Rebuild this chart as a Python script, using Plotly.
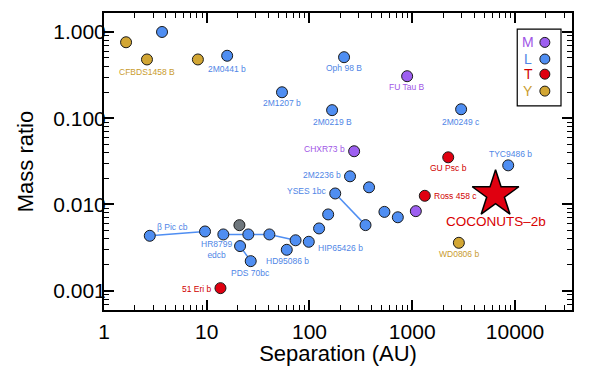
import numpy as np
import plotly.graph_objects as go

# ---------------- data ----------------
names = ["W1", "CFBDS1458 B", "L1", "W2", "2M0441 b", "2M1207 b", "Oph 98 B", "FU Tau B",
         "2M0219 B", "2M0249 c", "CHXR73 b", "GU Psc b", "TYC9486 b", "2M2236 b", "L2",
         "YSES 1b", "YSES 1c", "Ross 458 c", "M1", "L3", "L4", "L5", "L6", "HIP65426 b",
         "HR8799 e", "HR8799 d", "HR8799 c", "HR8799 b", "beta Pic c", "beta Pic b", "G1",
         "PDS 70 b", "PDS 70 c", "HD95086 b", "51 Eri b", "WD0806 b"]
sep = [1.64, 2.62, 3.67, 8.2, 15.8, 54, 217, 892,
       166, 2990, 272, 2240, 8590, 248, 380,
       178, 351, 1325, 1084, 536, 724, 152, 124, 98.4,
       14.5, 25.4, 40.7, 73.2, 2.79, 9.62, 20.8,
       21.1, 26.8, 60.1, 13.6, 2843]
ratio = [0.76, 0.48, 1.0, 0.48, 0.53, 0.20, 0.51, 0.307,
         0.124, 0.127, 0.0414, 0.0352, 0.0284, 0.0212, 0.0158,
         0.0134, 0.00576, 0.0126, 0.00836, 0.0082, 0.0071, 0.00766, 0.00527, 0.00369,
         0.00449, 0.00449, 0.00449, 0.00384, 0.00433, 0.00486, 0.00575,
         0.00329, 0.0022, 0.00298, 0.00107, 0.00359]
spt = ["Y", "Y", "L", "Y", "L", "L", "L", "M",
       "L", "L", "M", "T", "L", "L", "L",
       "L", "L", "T", "M", "L", "L", "L", "L", "L",
       "L", "L", "L", "L", "L", "L", "G",
       "L", "L", "L", "T", "Y"]

coconuts_sep = [6471]
coconuts_ratio = [0.0131]

systems = [["beta Pic c", "beta Pic b"],
           ["HR8799 e", "HR8799 d", "HR8799 c", "HR8799 b"],
           ["PDS 70 b", "PDS 70 c"],
           ["YSES 1b", "YSES 1c"]]

x_ticks = [1, 10, 100, 1000, 10000]
x_ticktext = ["1", "10", "100", "1000", "10000"]
y_ticks = [0.001, 0.01, 0.1, 1.0]
y_ticktext = ["0.001", "0.010", "0.100", "1.000"]

# label text, anchor object, type colour, (xanchor, xshift, yshift)
labels = [
    ("CFBDS1458 B", "CFBDS1458 B", "Y", ("center", 0, -13)),
    ("2M0441 b", "2M0441 b", "L", ("center", 0, -13)),
    ("2M1207 b", "2M1207 b", "L", ("center", 0, -11)),
    ("Oph 98 B", "Oph 98 B", "L", ("center", 0, -11)),
    ("FU Tau B", "FU Tau B", "M", ("center", 0, -11)),
    ("2M0219 B", "2M0219 B", "L", ("center", 0, -12)),
    ("2M0249 c", "2M0249 c", "L", ("center", 0, -13)),
    ("CHXR73 b", "CHXR73 b", "M", ("right", -7, 2)),
    ("GU Psc b", "GU Psc b", "T", ("center", 0, -11)),
    ("TYC9486 b", "TYC9486 b", "L", ("center", 2, 11)),
    ("2M2236 b", "2M2236 b", "L", ("right", -7, 1)),
    ("YSES 1bc", "YSES 1b", "L", ("right", -7, 2)),
    ("Ross 458 c", "Ross 458 c", "T", ("left", 7, 0)),
    ("WD0806 b", "WD0806 b", "Y", ("center", 0, -11)),
    ("HIP65426 b", "HIP65426 b", "L", ("left", 7, -6)),
    ("HD95086 b", "HD95086 b", "L", ("center", 1, -11)),
    ("PDS 70bc", "PDS 70 c", "L", ("center", 0, -12)),
    ("HR8799<br>edcb", "HR8799 e", "L", ("center", -7, -15)),
    ("β Pic cb", "beta Pic c", "L", ("left", 5, 9)),
    ("51 Eri b", "51 Eri b", "T", ("right", -6, -1)),
]

legend_types = ["M", "L", "T", "Y"]

# ---------------- style ----------------
marker_col = {"M": "#9d5ff0", "L": "#4f8ef2", "T": "#e00010", "Y": "#d2a634", "G": "#6f777d"}
text_col = {"M": "#a055e6", "L": "#4f86e6", "T": "#d00000", "Y": "#c99c2e", "G": "#6f777d"}
FONT = "Liberation Sans, Arial, Helvetica, sans-serif"

X_RANGE = [0, 4.555]
Y_RANGE = [-3.224, 0.22]


def minor_positions(lo, hi):
    out = []
    for d in range(int(np.floor(lo)) - 1, int(np.ceil(hi)) + 1):
        for m in range(2, 10):
            v = m * 10.0 ** d
            if lo <= np.log10(v) <= hi:
                out.append(v)
    return out


fig = go.Figure()
idx = {n: i for i, n in enumerate(names)}

for sysm in systems:
    fig.add_trace(go.Scatter(x=[sep[idx[m]] for m in sysm], y=[ratio[idx[m]] for m in sysm],
                             mode="lines", line=dict(color="#4f8ef2", width=1.5),
                             showlegend=False, hoverinfo="skip"))

for t in ["G", "Y", "L", "M", "T"]:
    xs = [s for s, k in zip(sep, spt) if k == t]
    ys = [r for r, k in zip(ratio, spt) if k == t]
    fig.add_trace(go.Scatter(x=xs, y=ys, mode="markers",
                             marker=dict(size=11, color=marker_col[t],
                                         line=dict(color="#1a1a1a", width=1)),
                             showlegend=False))

fig.add_trace(go.Scatter(x=coconuts_sep, y=coconuts_ratio, mode="markers",
                         marker=dict(symbol="star", size=35, color="#e00010",
                                     line=dict(color="black", width=1.5)),
                         showlegend=False))

# invisible trace on the minor-tick axes so they render
fig.add_trace(go.Scatter(x=[10], y=[0.01], xaxis="x2", yaxis="y2", mode="markers",
                         marker=dict(opacity=0), showlegend=False, hoverinfo="skip"))

for txt, obj, t, (xa, dx, dy) in labels:
    i = idx[obj]
    fig.add_annotation(x=np.log10(sep[i]), y=np.log10(ratio[i]), text=txt, showarrow=False,
                       xanchor=xa, yanchor="middle", xshift=dx, yshift=dy,
                       font=dict(family=FONT, size=8.5, color=text_col[t]),
                       align="center")

fig.add_annotation(x=np.log10(coconuts_sep[0]), y=np.log10(coconuts_ratio[0]),
                   text="COCONUTS–2b", showarrow=False, xanchor="center", yanchor="middle",
                   yshift=-27, font=dict(family=FONT, size=13.5, color="#d80000"))

# custom legend (letter then marker) in paper coordinates
fig.add_shape(type="rect", xref="paper", yref="paper", x0=0.883, x1=0.9765, y0=0.687, y1=0.946,
              line=dict(color="black", width=1.2), fillcolor="white")
row_y = [0.901, 0.845, 0.794, 0.737]
for t, yy in zip(legend_types, row_y):
    fig.add_annotation(xref="paper", yref="paper", x=0.906, y=yy, text=t, showarrow=False,
                       xanchor="center", yanchor="middle",
                       font=dict(family=FONT, size=14, color=text_col[t]))
    fig.add_shape(type="circle", xref="paper", yref="paper", xsizemode="pixel", ysizemode="pixel",
                  xanchor=0.942, yanchor=yy, x0=-5, x1=5, y0=-5, y1=5,
                  fillcolor=marker_col[t], line=dict(color="#1a1a1a", width=1))

axis_common = dict(type="log", showline=True, linecolor="black", linewidth=2, mirror="allticks",
                   ticks="inside", ticklen=10, tickwidth=1.5, tickcolor="black",
                   showgrid=False, zeroline=False, automargin=False,
                   tickfont=dict(family=FONT, size=21, color="black"))

fig.update_layout(
    xaxis=dict(**axis_common, range=X_RANGE, tickmode="array", tickvals=x_ticks,
               ticktext=x_ticktext, ticklabelstandoff=2,
               title=dict(text="Separation (AU)", font=dict(family=FONT, size=22, color="black"),
                          standoff=8)),
    yaxis=dict(**axis_common, range=Y_RANGE, tickmode="array", tickvals=y_ticks,
               ticktext=y_ticktext, ticklabelstandoff=-8,
               title=dict(text="Mass ratio", font=dict(family=FONT, size=22, color="black"),
                          standoff=14)),
    xaxis2=dict(type="log", overlaying="x", anchor="y", side="bottom", range=X_RANGE,
                tickmode="array", tickvals=minor_positions(*X_RANGE),
                ticks="inside", ticklen=5, tickwidth=1, tickcolor="black", mirror="allticks",
                showline=True, linecolor="black", linewidth=2,
                showticklabels=False, showgrid=False, zeroline=False, automargin=False),
    yaxis2=dict(type="log", overlaying="y", anchor="x", side="left", range=Y_RANGE,
                tickmode="array", tickvals=minor_positions(*Y_RANGE),
                ticks="inside", ticklen=5, tickwidth=1, tickcolor="black", mirror="allticks",
                showline=True, linecolor="black", linewidth=2,
                showticklabels=False, showgrid=False, zeroline=False, automargin=False),
    # page body has an 8px margin, so the figure is 8px smaller and margins shifted
    width=604, height=358, margin=dict(l=96, r=40, t=5, b=56),
    plot_bgcolor="white", paper_bgcolor="white", showlegend=False,
)

fig.write_html("out.html")
